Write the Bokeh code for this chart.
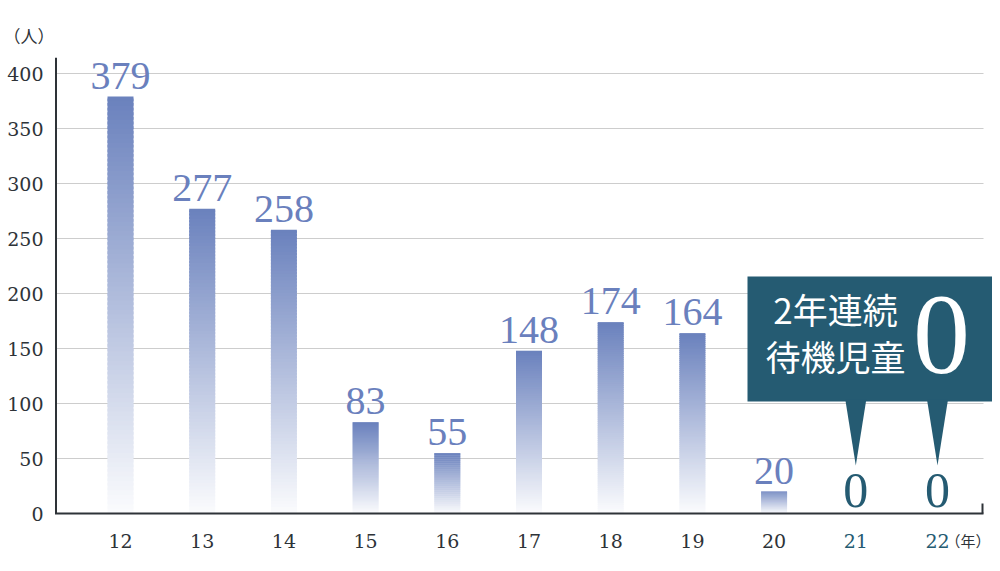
from bokeh.plotting import figure
from bokeh.models import Range1d, FixedTicker
from bokeh.core.properties import value
from bokeh.embed import file_html
from bokeh.resources import INLINE

# ---------------- data ----------------
years = [12, 13, 14, 15, 16, 17, 18, 19, 20, 21, 22]
year_labels = ["12", "13", "14", "15", "16", "17", "18", "19", "20", "21", "22"]
counts = [379, 277, 258, 83, 55, 148, 174, 164, 20, 0, 0]
y_ticks = [0, 50, 100, 150, 200, 250, 300, 350, 400]
y_tick_labels = ["0", "50", "100", "150", "200", "250", "300", "350", "400"]
y_unit = "（人）"
x_unit = "（年）"
callout_lines = ["2年連続", "待機児童"]
callout_number = "0"

# ---------------- styles ----------------
BAR_RGB = (106, 129, 189)
LABEL_BLUE = "#6a80bd"
TEAL = "#255b72"
DARK = "#2e3338"
GRID = "#cdcdcd"

# picture-pixel -> data helpers (layout of decorations only)
X0_PX, DX = 120.0, 81.7     # year 12 centre, px per year
Y0_PX, DY = 513.0, 1.1      # value 0, px per unit


def xv(px):
    return years[0] + (px - X0_PX) / DX


def yv(py):
    return (Y0_PX - py) / DY


W, H = 992, 563
FR_L, FR_R, FR_T, FR_B = 54, W, 57, H  # frame edges in px

p = figure(width=W, height=H, output_backend="svg", toolbar_location=None,
           x_range=Range1d(xv(FR_L), xv(FR_R)), y_range=Range1d(yv(FR_B), yv(FR_T)),
           x_axis_location=None, min_border_left=FR_L, min_border_right=0,
           min_border_top=FR_T, min_border_bottom=0)
p.outline_line_color = None
p.grid.visible = False
p.background_fill_color = "white"
p.border_fill_color = "white"

# title (unit of y)
p.title.text = y_unit
p.title.text_font = "Noto Sans CJK JP"
p.title.text_font_size = "17px"
p.title.text_font_style = "normal"
p.title.text_color = DARK
p.title.align = "left"
p.title.offset = -51
p.title.standoff = 19

# y axis (labels only)
ya = p.yaxis[0]
ya.ticker = FixedTicker(ticks=y_ticks)
ya.major_label_overrides = {t: s for t, s in zip(y_ticks, y_tick_labels)}
ya.axis_line_color = None
ya.major_tick_line_color = None
ya.minor_tick_line_color = None
ya.major_tick_in = 0
ya.major_tick_out = 0
ya.major_label_standoff = 11
ya.major_label_text_font = "DejaVu Serif"
ya.major_label_text_font_size = "19px"
ya.major_label_text_color = DARK

# gridlines
grid_vals = [t for t in y_ticks if t > 0]
p.segment(x0=[xv(56)] * len(grid_vals), x1=[xv(983)] * len(grid_vals),
          y0=grid_vals, y1=grid_vals, line_color=GRID, line_width=1)

# bars: vertical gradient from full colour (top) to near white (bottom)
N = 90
BAR_W = 0.318
l, r, b, t, c = [], [], [], [], []
for x, v in zip(years, counts):
    if v <= 0:
        continue
    for k in range(N):
        frac_top = 1 - (k + 0.5) / N          # 1 at bottom slice -> 0 at top
        a = 1 - 0.975 * frac_top
        col = tuple(int(round(a * cc + (1 - a) * 255)) for cc in BAR_RGB)
        l.append(x - BAR_W / 2)
        r.append(x + BAR_W / 2)
        b.append(v * k / N)
        t.append(min(v, v * (k + 1.6) / N))
        c.append("#%02x%02x%02x" % col)
p.quad(left=l, right=r, bottom=b, top=t, fill_color=c, line_color=None)

# axis lines
p.segment(x0=[xv(55.5)], x1=[xv(55.5)], y0=[0], y1=[yv(FR_T)], line_color=DARK, line_width=2)
p.segment(x0=[xv(54.5)], x1=[xv(983)], y0=[0], y1=[0], line_color=DARK, line_width=2)
p.segment(x0=[xv(982)], x1=[xv(982)], y0=[0], y1=[yv(503)], line_color=DARK, line_width=2)

# value labels
pos_x = [x for x, v in zip(years, counts) if v > 0]
pos_v = [v for v in counts if v > 0]
p.text(x=pos_x, y=pos_v, text=[str(v) for v in pos_v], text_align="center",
       text_baseline="middle", y_offset=-21, text_color=LABEL_BLUE,
       text_font=value("Liberation Serif"), text_font_size="40px")
zero_x = [x for x, v in zip(years, counts) if v == 0]
zero_v = [v for v in counts if v == 0]
p.text(x=zero_x, y=zero_v, text=[str(v) for v in zero_v], text_align="center",
       text_baseline="middle", y_offset=-23, text_color=TEAL,
       text_font=value("Liberation Serif"), text_font_size="50px")

# x tick labels
p.text(x=years, y=[yv(540)] * len(years), text=year_labels, text_align="center",
       text_baseline="middle",
       text_color=[TEAL if v == 0 else DARK for v in counts],
       text_font=value("DejaVu Serif"), text_font_size="19px")
p.text(x=[xv(990)], y=[yv(540)], text=[x_unit], text_align="right",
       text_baseline="middle", text_color=DARK,
       text_font=value("Noto Sans CJK JP"), text_font_size="15px")

# callout box + pointers
p.quad(left=[xv(747)], right=[xv(1000)], top=[yv(276)], bottom=[yv(401)],
       fill_color=TEAL, line_color=None)
hw = 10.5 / DX
p.patches(xs=[[x - hw, x + hw, x] for x in zero_x],
          ys=[[yv(399), yv(399), yv(465)] for _ in zero_x],
          fill_color=TEAL, line_color=None)
p.text(x=[xv(835), xv(835)], y=[yv(308), yv(355)], text=callout_lines,
       text_align="center", text_baseline="middle", text_color="white",
       text_font=value("Noto Sans CJK JP"), text_font_size="35px")
p.text(x=[xv(941)], y=[yv(335)], text=[callout_number], text_align="center",
       text_baseline="middle", text_color="white",
       text_font=value("Liberation Serif"), text_font_size="114px")

open("out.html", "w").write(file_html(p, INLINE))
